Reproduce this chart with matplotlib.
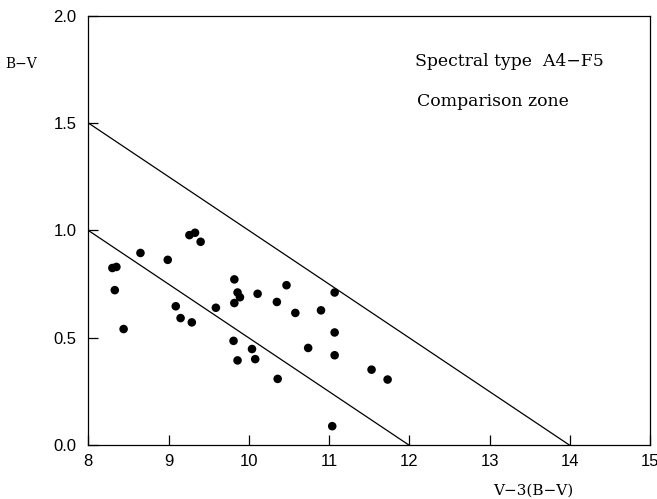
import matplotlib
matplotlib.use("Agg")
import matplotlib.pyplot as plt
import numpy as np

# Data
x_vals = [8.30, 8.35, 8.33, 8.44, 8.65, 8.99, 9.26, 9.33, 9.40, 9.09, 9.15, 9.29,
          9.59, 9.82, 9.86, 9.89, 9.82, 10.11, 10.35, 10.47, 10.58, 10.90, 11.07,
          11.07, 9.81, 10.04, 9.86, 10.08, 10.74, 11.07, 10.36, 11.53, 11.73, 11.04]
y_vals = [0.825, 0.830, 0.722, 0.541, 0.895, 0.863, 0.978, 0.989, 0.947, 0.647,
          0.592, 0.572, 0.640, 0.772, 0.711, 0.689, 0.662, 0.705, 0.667, 0.745,
          0.616, 0.628, 0.711, 0.525, 0.486, 0.448, 0.395, 0.401, 0.453, 0.419,
          0.309, 0.352, 0.306, 0.089]

upper_line_x = [8, 14]
upper_line_y = [1.5, 0.0]
lower_line_x = [8, 12]
lower_line_y = [1.0, 0.0]

x_ticks = [8, 9, 10, 11, 12, 13, 14, 15]
y_ticks = [0.0, 0.5, 1.0, 1.5, 2.0]

W, H = 657, 499
fig = plt.figure(figsize=(W/100, H/100), dpi=100)
left, right, bottom, top = 88.3, 650, 445.3, 15.5
ax = fig.add_axes([left/W, 1 - bottom/H, (right-left)/W, (bottom-top)/H])

ax.plot(upper_line_x, upper_line_y, color='black', lw=0.9)
ax.plot(lower_line_x, lower_line_y, color='black', lw=0.9)
ax.scatter(x_vals, y_vals, s=38, color='black', zorder=3, edgecolors='none')

ax.set_xlim(8, 15)
ax.set_ylim(0, 2)
ax.set_xticks(x_ticks)
ax.set_yticks(y_ticks)
ax.set_xticklabels([str(t) for t in x_ticks])
ax.set_yticklabels([f"{t:.1f}" for t in y_ticks])
ax.tick_params(direction='in', length=7, width=0.9, labelsize=12)
ax.tick_params(axis='y', pad=8.4)
ax.tick_params(axis='x', pad=6.3)
for lab in ax.get_xticklabels() + ax.get_yticklabels():
    lab.set_fontfamily('Liberation Sans')
for sp in ax.spines.values():
    sp.set_linewidth(0.9)

serif = 'DejaVu Serif'
fig.text(21/W, 1 - 68.3/H, 'B\u2212V', fontsize=10, family=serif, ha='center', va='baseline')
fig.text(533.5/W, 1 - 494.5/H, 'V\u22123(B\u2212V)', fontsize=11, family=serif, ha='center', va='baseline')
ax.text(12.07, 1.763, 'Spectral type  A4\u2212F5', fontsize=12.4, family=serif, ha='left', va='baseline')
ax.text(12.10, 1.579, 'Comparison zone', fontsize=12.4, family=serif, ha='left', va='baseline')

fig.savefig('out.png', dpi=100)
